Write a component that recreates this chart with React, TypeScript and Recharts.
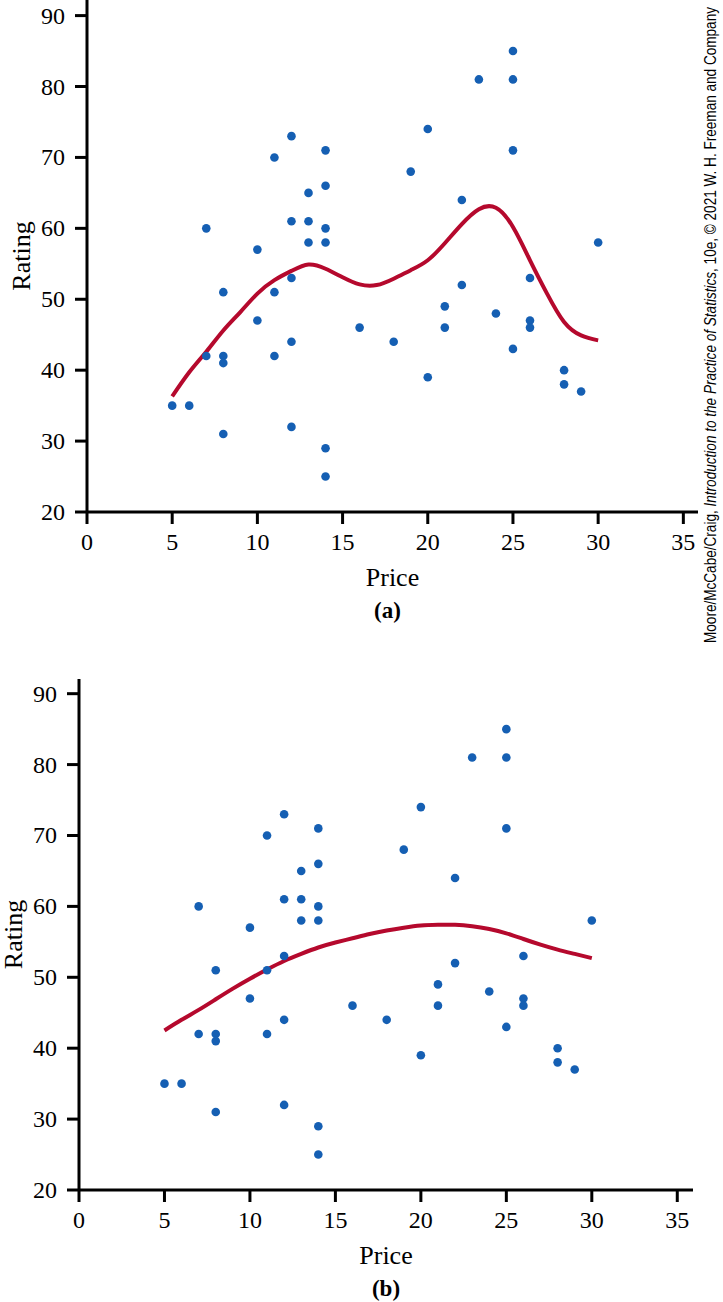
import React from 'react';
import { ComposedChart, Scatter, Line, XAxis, YAxis } from 'recharts';

// wine price vs rating (same points in both panels)
const prices = [5, 6, 7, 7, 8, 8, 8, 8, 10, 10, 11, 11, 11, 12, 12, 12, 12, 12, 13, 13, 13, 14, 14, 14, 14, 14, 14, 16, 18, 19, 20, 20, 21, 21, 22, 22, 23, 24, 25, 25, 25, 25, 26, 26, 26, 28, 28, 29, 30];
const ratings = [35, 35, 60, 42, 51, 42, 41, 31, 57, 47, 70, 51, 42, 73, 61, 53, 44, 32, 65, 61, 58, 71, 66, 60, 58, 29, 25, 46, 44, 68, 74, 39, 49, 46, 64, 52, 81, 48, 85, 81, 71, 43, 53, 47, 46, 40, 38, 37, 58];

// fitted curves
const curvePrices = [5, 6, 7, 8, 9, 10, 11, 12, 13, 14, 15, 16, 17, 18, 19, 20, 21, 22, 23, 24, 25, 26, 27, 28, 29, 30];
const curveA = [36.3, 39.7, 42.6, 45.6, 48.2, 50.8, 52.7, 54.0, 54.9, 54.3, 53.1, 52.1, 52.0, 52.9, 54.1, 55.5, 57.9, 60.6, 62.7, 62.9, 60.2, 55.5, 50.8, 46.8, 44.9, 44.2];
const curveB = [42.5, 44.0, 45.4, 46.9, 48.4, 49.8, 51.1, 52.3, 53.3, 54.2, 54.9, 55.5, 56.1, 56.6, 57.0, 57.3, 57.4, 57.4, 57.2, 56.8, 56.2, 55.4, 54.6, 53.9, 53.3, 52.7];

const xTicks = [0, 5, 10, 15, 20, 25, 30, 35];
const yTicks = [20, 30, 40, 50, 60, 70, 80, 90];

const points = prices.map((p, i) => ({ price: p, rating: ratings[i] }));
const lineA = curvePrices.map((p, i) => ({ price: p, rating: curveA[i] }));
const lineB = curvePrices.map((p, i) => ({ price: p, rating: curveB[i] }));

const SERIF = "'Liberation Serif', 'Times New Roman', serif";
const DOT = '#155fb3';
const RED = '#b5092d';

const Dot = (props: any) => <circle cx={props.cx} cy={props.cy} r={4.3} fill={DOT} />;

const XTick = (props: any) => (
  <text x={props.x} y={props.y + 17} textAnchor="middle" style={{ fontFamily: SERIF, fontSize: 24 }} fill="#000">
    {props.payload.value}
  </text>
);

const YTick = (props: any) => (
  <text x={props.x} y={props.y} textAnchor="end" dominantBaseline="central" style={{ fontFamily: SERIF, fontSize: 24 }} fill="#000">
    {props.payload.value}
  </text>
);

const yTitle = (props: any) => {
  const { x, y, width, height } = props.viewBox;
  const cx = x + width - 66;
  const cy = y + height / 2;
  return (
    <text x={cx} y={cy} transform={`rotate(-90 ${cx} ${cy})`} textAnchor="middle" dominantBaseline="central"
      style={{ fontFamily: SERIF, fontSize: 26 }} fill="#000">
      Rating
    </text>
  );
};

const xTitle = (tag: string, tagDx: number) => (props: any) => {
  const { x, y, width } = props.viewBox;
  const cx = x + width / 2;
  return (
    <g>
      <text x={cx} y={y + 74} textAnchor="middle" style={{ fontFamily: SERIF, fontSize: 26 }} fill="#000">Price</text>
      <text x={cx + tagDx} y={y + 106} textAnchor="middle" style={{ fontFamily: SERIF, fontSize: 23, fontWeight: 'bold' }} fill="#000">{tag}</text>
    </g>
  );
};

const Panel = ({ line, tag, tagDx, top, height, margin, yWidth, xHeight, xMax, yMax }: any) => (
  <div style={{ position: 'absolute', left: 0, top, fontFamily: SERIF }}>
    <ComposedChart width={723} height={height} margin={margin}>
      <XAxis
        type="number"
        dataKey="price"
        domain={[0, xMax]}
        ticks={xTicks}
        height={xHeight}
        axisLine={{ stroke: '#000', strokeWidth: 3 }}
        tickLine={{ stroke: '#000', strokeWidth: 3 }}
        tickSize={12}
        tickMargin={9}
        tick={<XTick />}
        label={{ content: xTitle(tag, tagDx) }}
      />
      <YAxis
        type="number"
        dataKey="rating"
        domain={[20, yMax]}
        ticks={yTicks}
        width={yWidth}
        axisLine={{ stroke: '#000', strokeWidth: 3 }}
        tickLine={{ stroke: '#000', strokeWidth: 3 }}
        tickSize={12}
        tickMargin={10}
        tick={<YTick />}
        label={{ content: yTitle }}
      />
      <Scatter data={points} dataKey="rating" shape={<Dot />} isAnimationActive={false} />
      <Line data={line} dataKey="rating" type="natural" stroke={RED} strokeWidth={4} dot={false}
        activeDot={false} isAnimationActive={false} />
    </ComposedChart>
  </div>
);

export default function App() {
  return (
    <div style={{ position: 'absolute', left: 0, top: 0, width: 723, height: 1302, background: '#fff' }}>
      <Panel line={lineA} tag="(a)" tagDx={-5} top={0} height={640}
        margin={{ top: 0, right: 25, bottom: 0, left: 0 }} yWidth={87} xHeight={128} xMax={35.86} yMax={92.2} />
      <Panel line={lineB} tag="(b)" tagDx={0} top={660} height={642}
        margin={{ top: 19, right: 30, bottom: 0, left: 0 }} yWidth={79} xHeight={112} xMax={35.92} yMax={92.07} />
      <svg style={{ position: 'absolute', left: 690, top: 0 }} width={33} height={660}>
        <text x={20} y={325} transform="rotate(-90 20 325)" textAnchor="middle" dominantBaseline="central"
          style={{ fontFamily: "'Liberation Sans', Arial, sans-serif", fontSize: 16 }} fill="#000"
          textLength={636} lengthAdjust="spacingAndGlyphs">
          Moore/McCabe/Craig, <tspan fontStyle="italic">Introduction to the Practice of Statistics</tspan>, 10e, © 2021 W. H. Freeman and Company
        </text>
      </svg>
    </div>
  );
}
